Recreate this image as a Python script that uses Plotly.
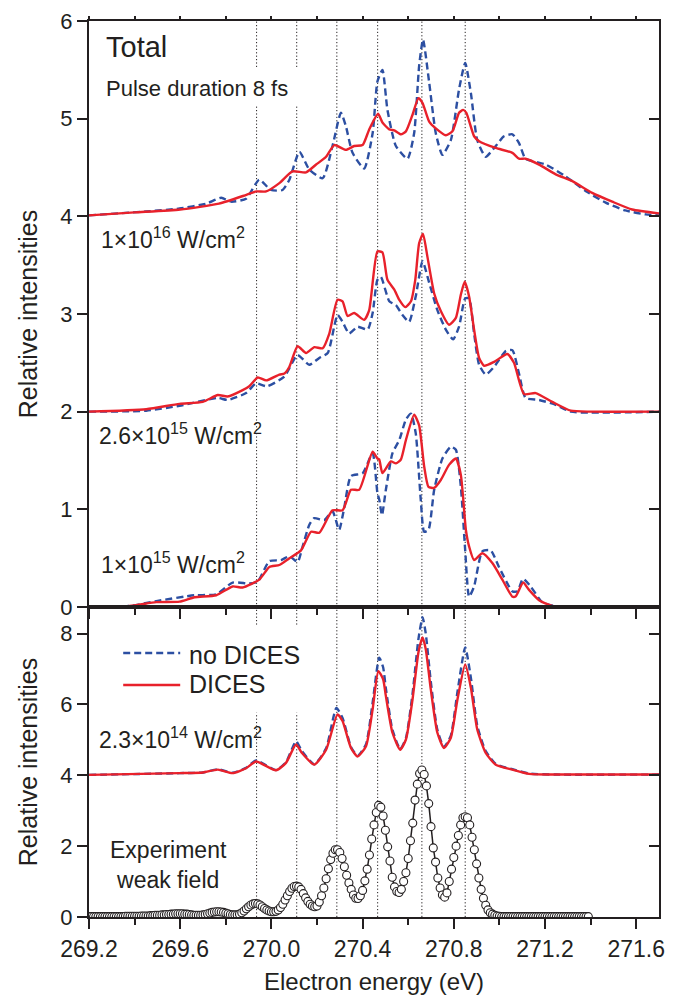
import numpy as np
import plotly.graph_objects as go

# ---------------- data ----------------
# 1e16 W/cm^2 (offset +4), top panel
e16_dices_x = [269.20, 269.40, 269.60, 269.77, 269.89, 269.934, 269.977, 270.035, 270.092, 270.152,
               270.196, 270.24, 270.276, 270.327, 270.363, 270.40, 270.429, 270.468, 270.487, 270.517,
               270.539, 270.568, 270.59, 270.619, 270.645, 270.663, 270.692, 270.721, 270.765, 270.794,
               270.823, 270.841, 270.855, 270.889, 270.911, 270.984, 271.057, 271.086, 271.115, 271.174,
               271.247, 271.32, 271.407, 271.495, 271.582, 271.70]
e16_dices_y = [4.01, 4.04, 4.07, 4.13, 4.22, 4.255, 4.255, 4.34, 4.46, 4.45,
               4.53, 4.61, 4.73, 4.68, 4.72, 4.73, 4.89, 5.05, 4.96, 4.89,
               4.88, 4.84, 4.87, 5.04, 5.21, 5.16, 4.97, 4.90, 4.83, 4.87,
               5.06, 5.09, 5.06, 4.82, 4.77, 4.70, 4.65, 4.59, 4.59, 4.53,
               4.43, 4.36, 4.24, 4.15, 4.07, 4.03]
e16_nodices_x = [269.20, 269.451, 269.597, 269.714, 269.78, 269.823, 269.889, 269.947, 269.998, 270.049,
                 270.079, 270.123, 270.166, 270.225, 270.268, 270.305, 270.327, 270.356, 270.407, 270.444,
                 270.465, 270.487, 270.509, 270.546, 270.597, 270.626, 270.648, 270.665, 270.692, 270.721,
                 270.75, 270.787, 270.823, 270.85, 270.875, 270.903, 270.94, 270.984, 271.02, 271.057,
                 271.086, 271.115, 271.203, 271.29, 271.378, 271.466, 271.553, 271.641, 271.70]
e16_nodices_y = [4.01, 4.05, 4.08, 4.13, 4.19, 4.15, 4.18, 4.375, 4.27, 4.27,
                 4.375, 4.66, 4.48, 4.39, 4.72, 5.06, 4.92, 4.65, 4.49, 4.85,
                 5.38, 5.50, 5.09, 4.72, 4.59, 4.85, 5.54, 5.81, 5.37, 4.85,
                 4.63, 4.78, 5.30, 5.57, 5.26, 4.78, 4.61, 4.72, 4.82, 4.84,
                 4.75, 4.59, 4.53, 4.41, 4.26, 4.14, 4.06, 4.02, 4.01]

# 2.6e15 W/cm^2 (offset +2)
e26_dices_x = [269.20, 269.451, 269.597, 269.699, 269.765, 269.808, 269.874, 269.903, 269.94, 269.977,
               270.035, 270.057, 270.079, 270.115, 270.152, 270.188, 270.225, 270.254, 270.29, 270.312,
               270.334, 270.363, 270.407, 270.429, 270.465, 270.487, 270.509, 270.539, 270.561, 270.587,
               270.612, 270.631, 270.648, 270.665, 270.684, 270.714, 270.743, 270.779, 270.809, 270.831,
               270.848, 270.867, 270.889, 270.911, 270.933, 270.977, 271.035, 271.064, 271.108, 271.159,
               271.232, 271.313, 271.40, 271.70]
e26_dices_y = [2.00, 2.025, 2.08, 2.10, 2.17, 2.155, 2.22, 2.26, 2.35, 2.32,
               2.38, 2.39, 2.46, 2.67, 2.60, 2.66, 2.65, 2.80, 3.145, 3.13,
               2.98, 3.01, 2.94, 3.04, 3.64, 3.63, 3.35, 3.25, 3.145, 3.07,
               3.13, 3.35, 3.725, 3.82, 3.59, 3.21, 3.03, 2.89, 2.96, 3.20,
               3.33, 3.18, 2.84, 2.55, 2.47, 2.51, 2.59, 2.50, 2.18, 2.19,
               2.10, 2.01, 2.00, 2.00]
e26_nodices_x = [269.20, 269.451, 269.597, 269.765, 269.808, 269.889, 269.933, 269.98, 270.057, 270.115,
                 270.166, 270.21, 270.247, 270.29, 270.312, 270.341, 270.378, 270.422, 270.444, 270.465,
                 270.48, 270.517, 270.546, 270.575, 270.604, 270.633, 270.663, 270.692, 270.728, 270.765,
                 270.797, 270.823, 270.85, 270.867, 270.889, 270.911, 270.94, 270.977, 271.028, 271.057,
                 271.086, 271.115, 271.174, 271.247, 271.313, 271.70]
e26_nodices_y = [2.00, 2.01, 2.06, 2.14, 2.12, 2.19, 2.29, 2.26, 2.36, 2.58,
                 2.48, 2.55, 2.60, 2.99, 2.92, 2.80, 2.87, 2.84, 3.01, 3.35,
                 3.38, 3.13, 3.09, 2.99, 2.92, 3.18, 3.54, 3.32, 3.04, 2.84,
                 2.74, 2.87, 3.16, 3.16, 2.80, 2.48, 2.38, 2.46, 2.62, 2.63,
                 2.39, 2.14, 2.12, 2.07, 2.00, 2.00]

# 1e15 W/cm^2 (offset 0)
e15_dices_x = [269.20, 269.378, 269.495, 269.597, 269.663, 269.758, 269.83, 269.874, 269.947, 269.991,
               270.035, 270.079, 270.13, 270.174, 270.21, 270.268, 270.312, 270.349, 270.385, 270.444,
               270.465, 270.473, 270.487, 270.524, 270.546, 270.568, 270.59, 270.626, 270.648, 270.67,
               270.689, 270.714, 270.743, 270.779, 270.809, 270.831, 270.853, 270.867, 270.889, 270.925,
               270.969, 271.013, 271.057, 271.072, 271.104, 271.13, 271.174, 271.247, 271.70]
e15_dices_y = [0.00, 0.01, 0.05, 0.055, 0.10, 0.12, 0.21, 0.20, 0.28, 0.41,
               0.43, 0.50, 0.58, 0.77, 0.76, 0.99, 0.99, 1.20, 1.20, 1.59,
               1.52, 1.51, 1.37, 1.49, 1.47, 1.51, 1.71, 1.97, 1.86, 1.44,
               1.23, 1.22, 1.30, 1.455, 1.52, 1.35, 0.79, 0.62, 0.48, 0.55,
               0.45, 0.28, 0.105, 0.11, 0.25, 0.175, 0.07, 0.00, 0.00]
e15_nodices_x = [269.20, 269.378, 269.495, 269.663, 269.758, 269.83, 269.903, 269.94, 269.991, 270.042,
                 270.079, 270.115, 270.137, 270.166, 270.188, 270.232, 270.268, 270.297, 270.319, 270.349,
                 270.40, 270.444, 270.465, 270.473, 270.485, 270.502, 270.531, 270.561, 270.59, 270.612,
                 270.633, 270.655, 270.67, 270.689, 270.714, 270.75, 270.787, 270.809, 270.831, 270.85,
                 270.867, 270.889, 270.925, 270.962, 270.998, 271.057, 271.079, 271.104, 271.137, 271.188,
                 271.261, 271.70]
e15_nodices_y = [0.00, 0.01, 0.06, 0.12, 0.13, 0.25, 0.24, 0.26, 0.47, 0.48,
                 0.52, 0.46, 0.62, 0.84, 0.91, 0.89, 0.98, 0.79, 1.01, 1.34,
                 1.37, 1.575, 1.165, 1.10, 0.94, 1.20, 1.575, 1.71, 1.92, 1.98,
                 1.78, 1.10, 0.77, 0.79, 1.20, 1.52, 1.64, 1.61, 1.23, 0.58,
                 0.105, 0.21, 0.57, 0.58, 0.41, 0.16, 0.16, 0.29, 0.21, 0.05,
                 0.00, 0.00]

# 2.3e14 W/cm^2 (offset +4), bottom panel
e14_dices_x = [269.20, 269.597, 269.70, 269.765, 269.83, 269.889, 269.933, 270.02, 270.064, 270.108,
               270.134, 270.188, 270.24, 270.29, 270.312, 270.349, 270.378, 270.415, 270.444, 270.469,
               270.49, 270.502, 270.531, 270.565, 270.59, 270.619, 270.645, 270.663, 270.677, 270.699,
               270.728, 270.757, 270.787, 270.816, 270.85, 270.875, 270.903, 270.94, 270.984, 271.057,
               271.13, 271.25, 271.70]
e14_dices_y = [4.01, 4.06, 4.08, 4.16, 4.06, 4.20, 4.39, 4.14, 4.35, 4.87,
               4.63, 4.30, 4.72, 5.72, 5.53, 4.77, 4.53, 4.82, 5.86, 6.94,
               6.71, 6.24, 5.20, 4.72, 5.01, 6.14, 7.47, 7.89, 7.56, 6.43,
               5.20, 4.77, 5.06, 6.14, 7.13, 6.47, 5.29, 4.63, 4.30, 4.16,
               4.04, 4.02, 4.02]
e14_nodices_x = [269.20, 269.597, 269.70, 269.765, 269.83, 269.889, 269.933, 270.02, 270.064, 270.108,
                 270.134, 270.188, 270.24, 270.285, 270.312, 270.349, 270.378, 270.415, 270.444, 270.473,
                 270.49, 270.502, 270.531, 270.565, 270.59, 270.619, 270.645, 270.663, 270.677, 270.699,
                 270.728, 270.757, 270.787, 270.816, 270.85, 270.875, 270.903, 270.94, 270.984, 271.057,
                 271.13, 271.25, 271.70]
e14_nodices_y = [4.01, 4.06, 4.08, 4.17, 4.07, 4.21, 4.42, 4.15, 4.37, 4.96,
                 4.68, 4.31, 4.76, 5.90, 5.62, 4.80, 4.55, 4.88, 6.05, 7.32,
                 7.05, 6.45, 5.28, 4.74, 5.05, 6.30, 7.85, 8.46, 8.00, 6.65,
                 5.28, 4.80, 5.12, 6.35, 7.61, 6.75, 5.40, 4.68, 4.32, 4.17,
                 4.05, 4.02, 4.02]

# Experiment, weak field (bottom panel), sampled every 0.01 eV from 269.20 eV
exp_start, exp_step = 269.20, 0.01
exp_y = [0.01, 0.01, 0.01, 0.01, 0.01, 0.01, 0.01, 0.01, 0.01, 0.01,
         0.01, 0.01, 0.01, 0.01, 0.01, 0.01, 0.02, 0.02, 0.02, 0.02,
         0.02, 0.02, 0.02, 0.03, 0.03, 0.03, 0.03, 0.04, 0.04, 0.05,
         0.05, 0.05, 0.06, 0.06, 0.07, 0.07, 0.08, 0.08, 0.09, 0.09,
         0.09, 0.09, 0.08, 0.08, 0.07, 0.06, 0.05, 0.05, 0.05, 0.05,
         0.06, 0.07, 0.09, 0.11, 0.13, 0.14, 0.15, 0.15, 0.14, 0.13,
         0.11, 0.09, 0.07, 0.06, 0.06, 0.06, 0.08, 0.12, 0.17, 0.23,
         0.29, 0.34, 0.37, 0.38, 0.37, 0.34, 0.29, 0.24, 0.20, 0.17,
         0.15, 0.15, 0.16, 0.20, 0.27, 0.36, 0.48, 0.60, 0.72, 0.81,
         0.86, 0.87, 0.85, 0.78, 0.66, 0.54, 0.44, 0.36, 0.31, 0.29,
         0.31, 0.42, 0.60, 0.82, 1.08, 1.36, 1.62, 1.80, 1.90, 1.90,
         1.82, 1.65, 1.42, 1.18, 0.96, 0.78, 0.62, 0.53, 0.52, 0.60,
         0.75, 1.02, 1.35, 1.75, 2.20, 2.60, 2.95, 3.15, 3.10, 2.85,
         2.45, 1.98, 1.58, 1.12, 0.85, 0.72, 0.69, 0.78, 1.00, 1.25,
         1.65, 2.15, 2.65, 3.30, 3.75, 4.05, 4.15, 4.02, 3.70, 3.20,
         2.55, 1.95, 1.55, 1.10, 0.82, 0.62, 0.56, 0.68, 1.00, 1.35,
         1.68, 2.00, 2.30, 2.60, 2.80, 2.83, 2.80, 2.60, 2.25, 1.90,
         1.50, 1.10, 0.78, 0.53, 0.33, 0.20, 0.12, 0.08, 0.05, 0.03,
         0.02, 0.01, 0.01, 0.01, 0.01, 0.01, 0.01, 0.01, 0.01, 0.01,
         0.01, 0.01, 0.01, 0.01, 0.01, 0.01, 0.01, 0.01, 0.01, 0.01,
         0.01, 0.01, 0.01, 0.01, 0.01, 0.01, 0.01, 0.01, 0.01, 0.01,
         0.01, 0.01, 0.01, 0.01, 0.01, 0.01, 0.01, 0.01, 0.01, 0.01]
exp_x = list(np.round(exp_start + exp_step * np.arange(len(exp_y)), 3))

# dotted reference energies (eV)
ref_energies = [269.935, 270.111, 270.287, 270.466, 270.66, 270.85]

# axis ranges
x_range = [269.2, 271.7]
top_y_range = [0, 6]
bot_y_range = [0, 8.75]

# ---------------- style ----------------
RED = "#e8212b"
BLUE = "#2c4fa2"
INK = "#231f20"
FONT = "Liberation Sans, Arial, Helvetica, sans-serif"
SMOOTH = 0.55

fig = go.Figure()

def add_pair(xd, yd, xn, yn, xa, ya):
    fig.add_trace(go.Scatter(x=xn, y=yn, mode="lines", xaxis=xa, yaxis=ya, showlegend=False,
                             line=dict(color=BLUE, width=2.4, dash="7px,4px", shape="spline", smoothing=SMOOTH)))
    fig.add_trace(go.Scatter(x=xd, y=yd, mode="lines", xaxis=xa, yaxis=ya, showlegend=False,
                             line=dict(color=RED, width=2.4, shape="spline", smoothing=SMOOTH)))

add_pair(e16_dices_x, e16_dices_y, e16_nodices_x, e16_nodices_y, "x", "y")
add_pair(e26_dices_x, e26_dices_y, e26_nodices_x, e26_nodices_y, "x", "y")
add_pair(e15_dices_x, e15_dices_y, e15_nodices_x, e15_nodices_y, "x", "y")
add_pair(e14_dices_x, e14_dices_y, e14_nodices_x, e14_nodices_y, "x2", "y2")

fig.add_trace(go.Scatter(x=exp_x, y=exp_y, mode="lines+markers", xaxis="x2", yaxis="y2", showlegend=False,
                         line=dict(color=INK, width=1.5),
                         marker=dict(symbol="circle", size=8, color="white",
                                     line=dict(color=INK, width=1.1))))

# dummy traces so that the overlay (mirror) axes are drawn
for xa, ya in [("x", "y3"), ("x2", "y4"), ("x3", "y")]:
    fig.add_trace(go.Scatter(x=[None], y=[None], xaxis=xa, yaxis=ya, showlegend=False, hoverinfo="skip"))

shapes = []
for e in ref_energies:
    shapes.append(dict(type="line", xref="x", yref="paper", x0=e, x1=e, y0=0, y1=1, layer="below",
                       line=dict(color=INK, width=1, dash="1.2px,2.2px")))
# white boxes behind text (as in the original figure)
shapes.append(dict(type="rect", xref="paper", yref="paper", x0=0.02, x1=0.375, y0=0.905, y1=0.948,
                   fillcolor="white", line=dict(width=0), layer="below"))
shapes.append(dict(type="rect", xref="paper", yref="paper", x0=0.02, x1=0.375, y0=0.228, y1=0.325,
                   fillcolor="white", line=dict(width=0), layer="below"))
# legend samples
shapes.append(dict(type="line", xref="paper", yref="paper", x0=0.060, x1=0.160, y0=0.2946, y1=0.2946,
                   line=dict(color=BLUE, width=2.4, dash="7px,4px")))
shapes.append(dict(type="line", xref="paper", yref="paper", x0=0.060, x1=0.160, y0=0.2589, y1=0.2589,
                   line=dict(color=RED, width=2.4)))

tf = dict(family=FONT, color=INK)
annotations = [
    dict(text="Total", x=269.264, y=5.73, xref="x", yref="y", xanchor="left", yanchor="middle",
         showarrow=False, font=dict(size=29, **tf)),
    dict(text="Pulse duration 8 fs", x=269.264, y=5.31, xref="x", yref="y", xanchor="left", yanchor="middle",
         showarrow=False, font=dict(size=22, **tf)),
    dict(text="1×10<sup>16</sup> W/cm<sup>2</sup>", x=269.242, y=3.78, xref="x", yref="y", xanchor="left",
         yanchor="middle", showarrow=False, font=dict(size=23, **tf)),
    dict(text="2.6×10<sup>15</sup> W/cm<sup>2</sup>", x=269.235, y=1.77, xref="x", yref="y", xanchor="left",
         yanchor="middle", showarrow=False, font=dict(size=23, **tf)),
    dict(text="1×10<sup>15</sup> W/cm<sup>2</sup>", x=269.242, y=0.45, xref="x", yref="y", xanchor="left",
         yanchor="middle", showarrow=False, font=dict(size=23, **tf)),
    dict(text="2.3×10<sup>14</sup> W/cm<sup>2</sup>", x=269.235, y=5.05, xref="x2", yref="y2", xanchor="left",
         yanchor="middle", showarrow=False, font=dict(size=23, **tf)),
    dict(text="Experiment<br>weak field", x=269.55, y=1.48, xref="x2", yref="y2", xanchor="center",
         yanchor="middle", showarrow=False, font=dict(size=23, **tf)),
    dict(text="no DICES", x=0.172, y=0.2924, xref="paper", yref="paper", xanchor="left", yanchor="middle",
         showarrow=False, font=dict(size=25, **tf)),
    dict(text="DICES", x=0.172, y=0.2595, xref="paper", yref="paper", xanchor="left", yanchor="middle",
         showarrow=False, font=dict(size=25, **tf)),
]

split = 0.346
common_x = dict(range=x_range, tickmode="linear", tick0=269.2, dtick=0.4, showgrid=False, zeroline=False,
                showline=True, linewidth=2, linecolor=INK, ticks="outside", ticklen=10, tickwidth=2,
                tickcolor=INK, automargin=False,
                minor=dict(ticks="outside", ticklen=6, tickwidth=2, tickcolor=INK,
                           tickmode="linear", tick0=269.2, dtick=0.2))
common_y = dict(showgrid=False, zeroline=False, showline=True, linewidth=2, linecolor=INK,
                ticks="outside", ticklen=10, tickwidth=2, tickcolor=INK, automargin=False,
                tickfont=dict(size=22, **tf))

fig.update_layout(
    width=680, height=995, autosize=False,
    margin=dict(l=89, r=21, t=21, b=78, pad=0),
    paper_bgcolor="white", plot_bgcolor="white",
    font=dict(family=FONT, color=INK),
    showlegend=False,
    xaxis=dict(anchor="y", domain=[0, 1], showticklabels=False, **common_x),
    xaxis2=dict(anchor="y2", domain=[0, 1], showticklabels=True, tickformat=".1f",
                tickfont=dict(size=23, **tf), mirror=True,
                title=dict(text="Electron energy (eV)", font=dict(size=24, **tf), standoff=14), **common_x),
    xaxis3=dict(overlaying="x", side="top", anchor="y", range=x_range, showgrid=False, zeroline=False,
                showline=True, linewidth=2, linecolor=INK, showticklabels=False, automargin=False,
                tickmode="linear", tick0=269.2, dtick=0.2, ticks="outside", ticklen=3, tickwidth=1.5,
                tickcolor=INK),
    yaxis=dict(domain=[split, 1], anchor="x", range=top_y_range, tickmode="linear", tick0=0, dtick=1,
               title=dict(text="Relative intensities", font=dict(size=25, **tf), standoff=16), **common_y),
    yaxis2=dict(domain=[0, split], anchor="x2", range=bot_y_range, tickmode="linear", tick0=0, dtick=2,
                title=dict(text="Relative intensities", font=dict(size=25, **tf), standoff=16), **common_y),
    yaxis3=dict(overlaying="y", side="right", anchor="x", range=top_y_range, showgrid=False, zeroline=False,
                showline=True, linewidth=2, linecolor=INK, showticklabels=False, tickmode="linear",
                automargin=False, tick0=0, dtick=1, ticks="inside", ticklen=10, tickwidth=2, tickcolor=INK),
    yaxis4=dict(overlaying="y2", side="right", anchor="x2", range=bot_y_range, showgrid=False, zeroline=False,
                showline=True, linewidth=2, linecolor=INK, showticklabels=False, tickmode="linear",
                automargin=False, tick0=0, dtick=2, ticks="inside", ticklen=10, tickwidth=2, tickcolor=INK),
    shapes=shapes,
    annotations=annotations,
)

fig.write_html("out.html")
